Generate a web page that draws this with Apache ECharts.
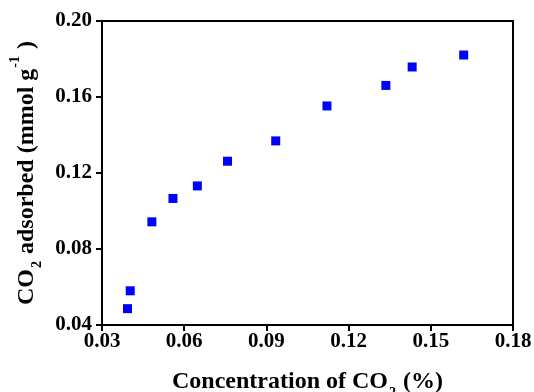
<!DOCTYPE html>
<html>
<head>
<meta charset="utf-8">
<script src="https://cdn.jsdelivr.net/npm/echarts@6/dist/echarts.min.js"></script>
<style>
html,body{margin:0;padding:0;background:#fff;}
#chart{width:534px;height:392px;}
</style>
</head>
<body>
<div id="chart"></div>
<script>
// Data
const concentration = [0.0393, 0.0403, 0.0482, 0.0559, 0.0648, 0.0758, 0.0934, 0.1121, 0.1336, 0.1432, 0.1620];
const adsorbed = [0.0486, 0.0580, 0.0943, 0.1066, 0.1132, 0.1262, 0.1369, 0.1553, 0.1661, 0.1758, 0.1821];
const xTicks = [0.03, 0.06, 0.09, 0.12, 0.15, 0.18];
const yTicks = [0.04, 0.08, 0.12, 0.16, 0.20];

const points = concentration.map((c, i) => [c, adsorbed[i]]);
const FONT = 'Liberation Serif';
const nameRich = {
  a: {fontFamily: FONT, fontWeight: 'bold', fontSize: 24, color: '#000', lineHeight: 26},
  s: {fontFamily: FONT, fontWeight: 'bold', fontSize: 14, color: '#000', lineHeight: 12, verticalAlign: 'bottom', padding: [0, 1, -5, 1]},
  p: {fontFamily: FONT, fontWeight: 'bold', fontSize: 14, color: '#000', lineHeight: 12, verticalAlign: 'top', padding: [-5, 1, 0, 1]}
};

const chart = echarts.init(document.getElementById('chart'));
chart.setOption({
  animation: false,
  backgroundColor: '#fff',
  grid: {left: 102, right: 21, top: 21, bottom: 67, show: true, borderColor: '#000', borderWidth: 2,
    backgroundColor: 'transparent', outerBoundsMode: 'none', containLabel: false},
  xAxis: {
    type: 'value',
    min: xTicks[0], max: xTicks[xTicks.length - 1], interval: 0.03,
    splitLine: {show: false},
    axisLine: {show: true, lineStyle: {color: '#000', width: 2}},
    axisTick: {show: true, inside: false, length: 6, lineStyle: {color: '#000', width: 2}},
    axisLabel: {color: '#000', fontFamily: FONT, fontWeight: 'bold', fontSize: 21, margin: 6,
      formatter: v => v.toFixed(2)},
    name: '{a|Concentration of CO}{s|2}{a| (%)}',
    nameLocation: 'middle', nameGap: 44,
    nameTextStyle: {rich: nameRich}
  },
  yAxis: {
    type: 'value',
    min: yTicks[0], max: yTicks[yTicks.length - 1], interval: 0.04,
    splitLine: {show: false},
    axisLine: {show: true, lineStyle: {color: '#000', width: 2}},
    axisTick: {show: true, inside: false, length: 6, lineStyle: {color: '#000', width: 2}},
    axisLabel: {color: '#000', fontFamily: FONT, fontWeight: 'bold', fontSize: 21, margin: 10,
      formatter: v => v.toFixed(2)},
    name: '{a|CO}{s|2}{a| adsorbed (mmol g}{p|-1}{a| )}',
    nameLocation: 'middle', nameGap: 61, nameRotate: 90,
    nameTextStyle: {rich: nameRich}
  },
  series: [{
    type: 'scatter',
    data: points,
    symbol: 'rect',
    symbolSize: 9,
    itemStyle: {color: '#0000FF', opacity: 1}
  }]
});
</script>
</body>
</html>
